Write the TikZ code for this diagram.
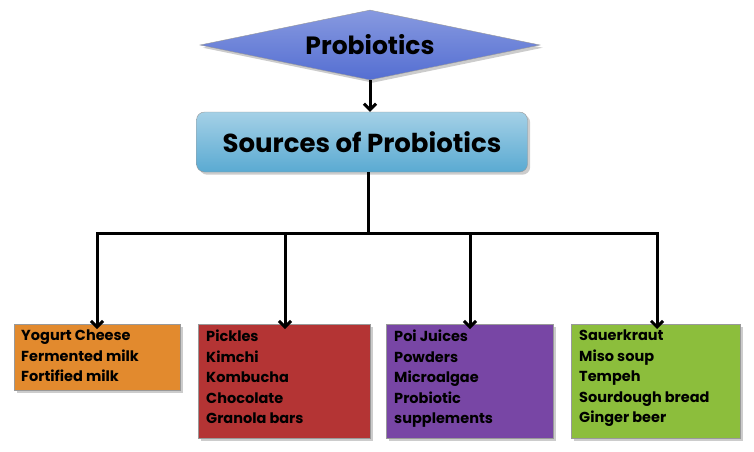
\documentclass[tikz,border=0pt]{standalone}
\usepackage{fontspec}
\setmainfont{Poppins}
\usetikzlibrary{shapes.geometric,positioning,arrows.meta,shadows}
\definecolor{diamondblue}{RGB}{84,110,210}
\definecolor{boxblue}{RGB}{90,170,210}
\definecolor{foodorange}{RGB}{226,138,46}
\definecolor{foodred}{RGB}{180,52,52}
\definecolor{foodpurple}{RGB}{120,70,165}
\definecolor{foodgreen}{RGB}{140,190,60}

\tikzset{
  sourcebox/.style={draw=black!40, thin, drop shadow={opacity=0.4}},
  listtext/.style={anchor=north west, align=left, font=\bfseries\fontsize{14.5}{20.5}\selectfont, inner sep=0pt},
  link/.style={line width=3pt, -{Straight Barb[length=6pt,width=12pt,line width=3pt]}}
}

\begin{document}
\begin{tikzpicture}[x=1pt,y=-1pt]
    \useasboundingbox (0,0) rectangle (754,451);
    % top of the tree
    \node[diamond, aspect=4.8, minimum width=340, minimum height=70, inner sep=0pt,
          draw=black!50, top color=diamondblue!70, bottom color=diamondblue, sourcebox]
          (probiotics) at (370,45) {\bfseries\fontsize{25}{28}\selectfont Probiotics};
    \node[rounded corners=8pt, minimum width=331, minimum height=60,
          draw=black!50, top color=boxblue!55, bottom color=boxblue, sourcebox]
          (sources) at (362,142) {\bfseries\fontsize{26}{30}\selectfont Sources of Probiotics};
    \draw[link] (probiotics) -- (probiotics |- sources.north);

    % the four groups
    \fill[foodorange, sourcebox] (14,324) rectangle (180,390);
    \fill[foodred, sourcebox] (198,324) rectangle (370,438);
    \fill[foodpurple, sourcebox] (386,324) rectangle (553,438);
    \fill[foodgreen, sourcebox] (571,324) rectangle (740,438);
    \coordinate (dairy) at (97,324);
    \coordinate (ferm) at (285,324);
    \coordinate (supp) at (470,324);
    \coordinate (veg) at (657,324);

    \node[listtext] (dairytext) at (21,330) {Yogurt Cheese\\Fermented milk\\Fortified milk};
    \node[listtext] (fermtext) at (206,330) {Pickles\\Kimchi\\Kombucha\\Chocolate\\Granola bars};
    \node[listtext] (supptext) at (394,330) {Poi Juices\\Powders\\Microalgae\\Probiotic\\supplements};
    \node[listtext] (vegtext) at (579,330) {Sauerkraut\\Miso soup\\Tempeh\\Sourdough bread\\Ginger beer};

    % branches
    \coordinate (split) at (368,233);
    \draw[line width=3pt] (sources.south -| split) -- (split);
    \draw[line width=3pt, line cap=rect] (dairy |- split) -- (veg |- split);
    \foreach \g in {dairy,ferm,supp,veg}
        \draw[link] (\g |- split) -- ([yshift=-5pt]\g);
\end{tikzpicture}
\end{document}
